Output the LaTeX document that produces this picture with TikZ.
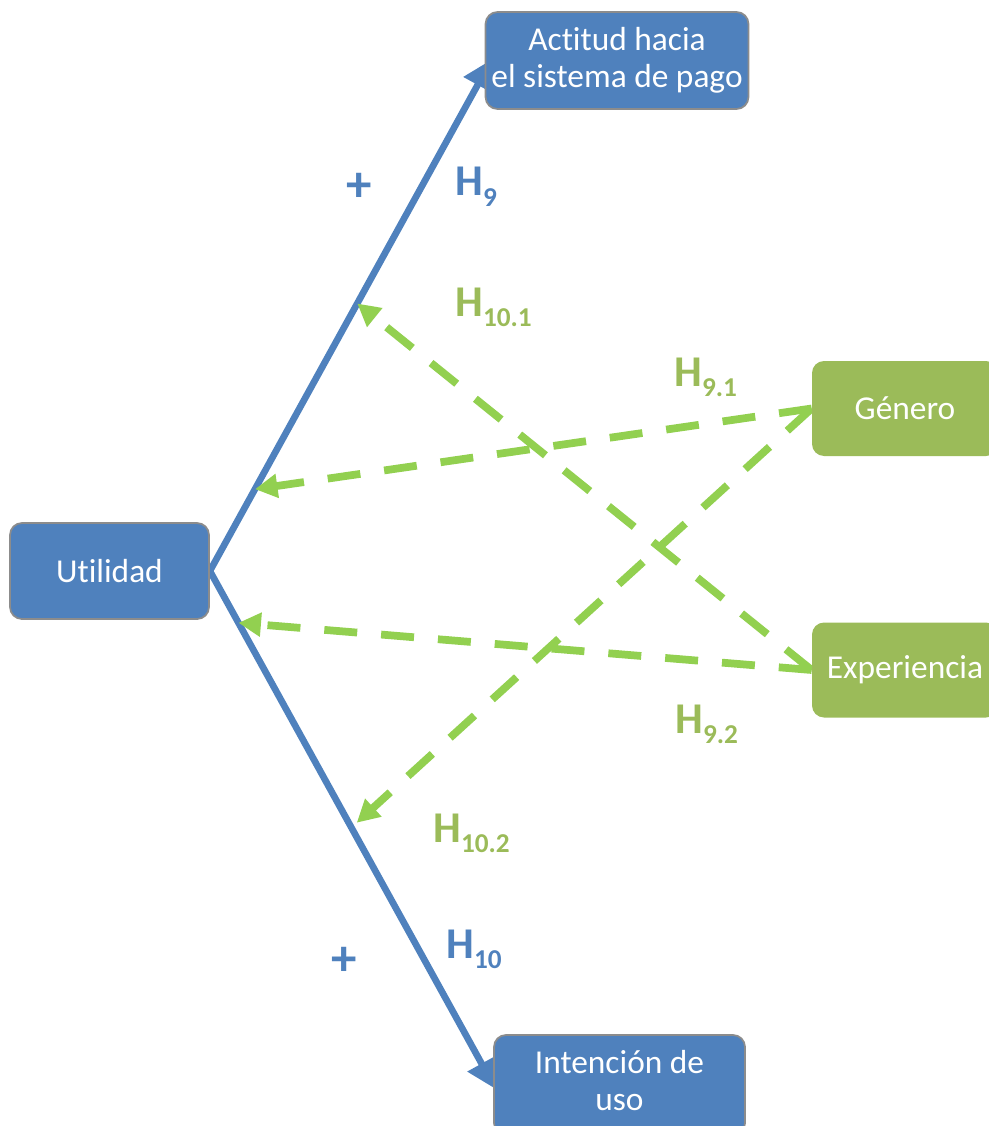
\documentclass[tikz,border=0pt]{standalone}
\usepackage{fontspec}
\setmainfont{Carlito}[Ligatures={NoCommon}]
\usetikzlibrary{arrows.meta, positioning, calc, backgrounds}

\definecolor{boxblue}{HTML}{4F81BD}
\definecolor{boxgreen}{HTML}{9BBB59}
\definecolor{dashgreen}{HTML}{92D050}
\definecolor{edgegray}{HTML}{8C8C8C}

% hypothesis label with lowered index
\newcommand{\hlab}[1]{H\raisebox{-0.21cm}{\fontsize{15.5}{15.5}\selectfont #1}}

\begin{document}
\begin{tikzpicture}[
  bluebox/.style={rectangle, draw=edgegray, line width=1pt, fill=boxblue, text=white, align=center, rounded corners=0.24cm, font=\fontsize{19}{21}\selectfont},
  greenbox/.style={rectangle, fill=boxgreen, text=white, align=center, rounded corners=0.24cm, minimum width=3.72cm, minimum height=1.9cm, font=\fontsize{19}{21}\selectfont},
  bluearrow/.style={draw=boxblue, line width=3.8pt, -{Triangle[length=0.58cm, width=0.62cm]}},
  greenarrow/.style={draw=dashgreen, line width=4.4pt, dash pattern=on 0.66cm off 0.48cm, -{Triangle[length=0.45cm, width=0.46cm]}},
  hblue/.style={text=boxblue, inner sep=0pt, anchor=base west, font=\fontsize{25}{25}\selectfont\bfseries},
  hgreen/.style={hblue, text=boxgreen},
  sign/.style={text=boxblue, inner sep=0pt, font=\fontsize{29}{29}\selectfont\bfseries}]

\useasboundingbox (0,0) rectangle (19.76,-22.52);

\node[bluebox, minimum width=5.2cm, minimum height=1.94cm] (actitud) at (12.34,-1.21) {Actitud hacia\\el sistema de pago};
\node[bluebox, minimum width=3.98cm, minimum height=1.92cm] (util) at (2.19,-11.42) {Utilidad};
\node[greenbox] (genero) at (18.1,-8.17) {Género};
\node[greenbox] (exper) at (18.1,-13.4) {Experiencia};
\node[bluebox, minimum width=5.02cm, minimum height=2cm, text depth=0.2cm] (intencion) at (12.39,-21.7) {Intención de\\uso};

\node[sign] (plustop) at (7.18,-3.74) {+};
\node[hblue] (h9) at (9.1,-3.92) {\hlab{9}};
\node[hgreen] (h101) at (9.1,-6.32) {\hlab{10.1}};
\node[hgreen] (h91) at (13.48,-7.72) {\hlab{9.1}};
\node[hgreen] (h92) at (13.5,-14.66) {\hlab{9.2}};
\node[hgreen] (h102) at (8.66,-16.84) {\hlab{10.2}};
\node[hblue] (h10) at (8.92,-19.16) {\hlab{10}};
\node[sign] (plusbot) at (6.88,-19.22) {+};

\begin{scope}[on background layer]
\draw[bluearrow] (util.east) -- coordinate[pos=0.16] (t91) coordinate[pos=0.523] (t101) ([shift={(0.14,0.02)}]actitud.west);
\draw[bluearrow] (util.east) -- coordinate[pos=0.1] (t92) coordinate[pos=0.486] (t102) ([shift={(0.05,-0.08)}]intencion.west);

\draw[greenarrow] (genero.west) -- (t91);
\draw[greenarrow] (exper.west) -- (t92);
\draw[greenarrow] (exper.west) -- (t101);
\draw[greenarrow] (genero.west) -- ([xshift=0.16cm]t102);
\end{scope}

\end{tikzpicture}
\end{document}
